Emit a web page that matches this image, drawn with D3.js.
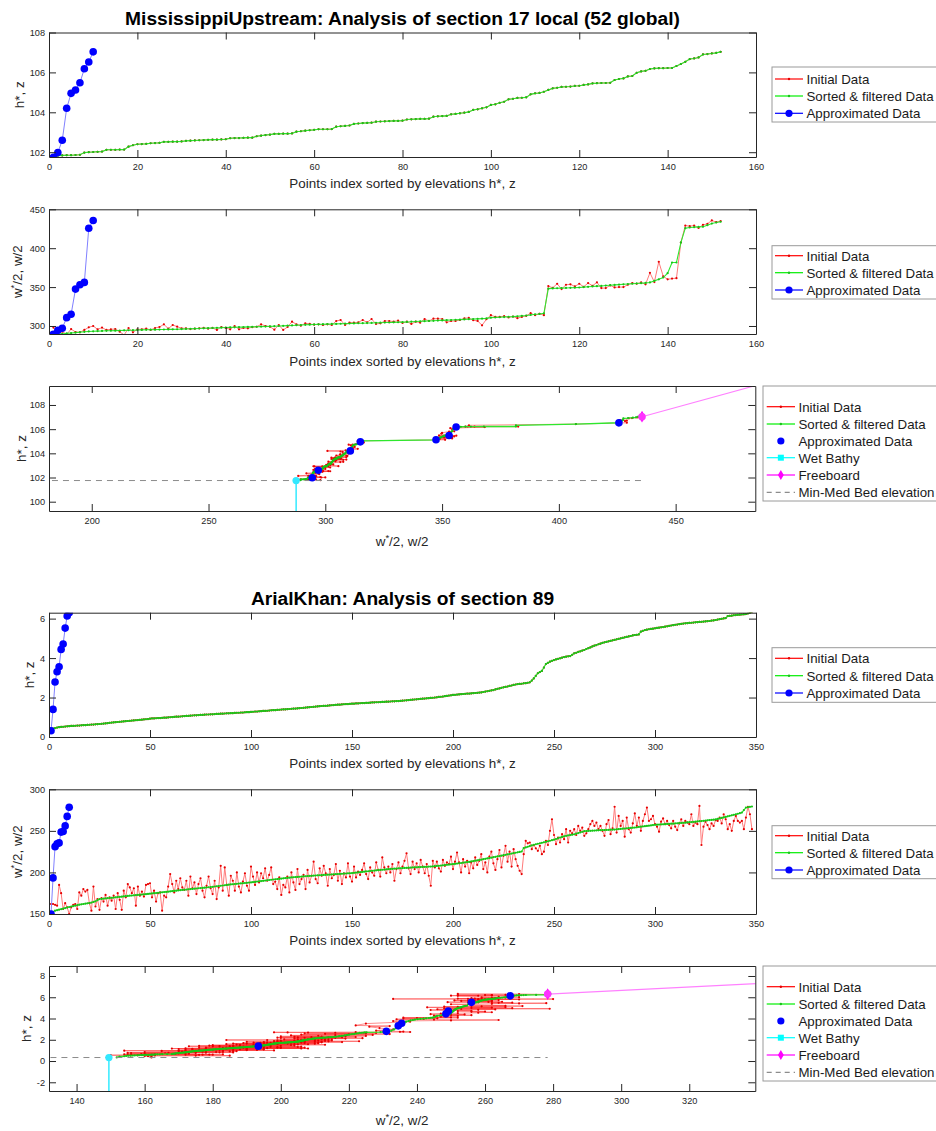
<!DOCTYPE html>
<html>
<head>
<meta charset="utf-8">
<script src="https://cdn.jsdelivr.net/npm/d3@7"></script>
<style>
body { margin: 0; background: #fff; }
svg text { font-family: "Liberation Sans", Arial, Helvetica, sans-serif; }
</style>
</head>
<body>
<svg id="fig" width="936" height="1131"></svg>
<script>
// ---------- MississippiUpstream, section 17 ----------
var missH = [
  101.78,101.83,101.84,101.85,101.85,101.86,101.87,101.98,102.00,102.01,
  102.02,102.03,102.12,102.12,102.12,102.13,102.13,102.28,102.35,102.40,
  102.41,102.42,102.45,102.46,102.47,102.52,102.52,102.53,102.53,102.54,
  102.57,102.58,102.59,102.60,102.61,102.62,102.63,102.63,102.64,102.65,
  102.70,102.71,102.71,102.72,102.73,102.73,102.80,102.83,102.86,102.88,
  102.92,102.92,102.93,102.93,102.94,103.03,103.05,103.08,103.10,103.12,
  103.15,103.15,103.15,103.16,103.28,103.30,103.32,103.34,103.42,103.44,
  103.46,103.47,103.48,103.53,103.54,103.55,103.56,103.57,103.57,103.58,
  103.64,103.65,103.66,103.67,103.67,103.68,103.78,103.80,103.81,103.82,
  103.90,103.92,103.95,103.98,104.02,104.12,104.15,104.20,104.25,104.37,
  104.40,104.48,104.53,104.65,104.68,104.72,104.73,104.75,104.90,104.95,
  104.97,105.03,105.12,105.20,105.23,105.27,105.28,105.29,105.32,105.33,
  105.37,105.40,105.45,105.46,105.47,105.47,105.48,105.62,105.67,105.70,
  105.80,105.82,105.98,106.05,106.08,106.17,106.20,106.21,106.21,106.22,
  106.22,106.32,106.42,106.53,106.67,106.70,106.75,106.90,106.92,106.95,
  106.98,107.03];
var missWSorted = [
  289.3,289.5,289.8,290.5,291.0,291.5,292.0,292.5,293.0,293.2,
  293.4,293.6,293.8,293.9,294.0,294.2,294.4,294.5,294.6,294.8,
  295.0,295.1,295.2,295.3,295.4,295.5,295.6,295.7,295.8,296.0,
  296.2,296.4,296.6,296.8,297.0,297.2,297.4,297.6,297.8,298.0,
  298.2,298.3,298.5,298.6,298.8,298.9,299.0,299.2,299.3,299.5,
  299.7,300.0,300.2,300.5,300.7,301.0,301.2,301.5,301.7,302.0,
  302.1,302.3,302.4,302.6,302.7,302.9,303.0,303.2,303.3,303.5,
  303.6,303.8,303.9,304.1,304.2,304.4,304.5,304.7,304.8,305.0,
  305.2,305.5,305.7,306.0,306.2,306.5,306.7,307.0,307.2,307.5,
  307.7,308.0,308.2,308.5,308.7,309.0,309.2,309.5,309.8,310.7,
  311.0,311.2,311.5,311.8,312.0,312.5,313.0,313.5,314.2,315.0,
  315.5,316.3,348.0,348.3,348.5,348.7,348.9,349.1,349.3,349.5,
  350.0,350.4,350.8,351.2,351.5,352.0,352.4,352.8,353.2,353.6,
  354.0,354.3,354.7,355.0,355.4,356.0,358.0,360.0,362.3,367.9,
  381.6,381.6,407.3,425.7,426.6,427.0,427.4,427.6,429.6,431.7,
  433.0,434.0];
var missWInitial = [
  297.9,291.4,292.7,289.3,296.0,292.3,291.9,294.9,298.3,300.0,
  295.7,297.9,294.9,295.7,296.1,292.7,288.4,297.4,291.9,295.7,
  295.7,296.6,294.9,297.4,298.7,302.1,296.6,301.3,299.1,297.0,
  297.0,296.0,296.5,297.0,297.5,296.6,297.5,294.9,298.7,297.5,
  295.7,300.0,295.7,297.5,297.0,298.5,299.0,302.1,300.0,299.1,
  295.3,301.3,294.9,298.7,305.6,302.1,300.4,303.4,302.6,301.7,
  302.1,301.3,302.1,301.3,306.4,307.7,301.3,304.3,304.3,304.7,
  307.7,304.7,309.0,302.6,303.4,306.4,306.4,305.6,306.9,303.9,
  305.6,302.6,305.6,304.3,309.0,306.4,309.4,309.4,309.0,304.7,
  306.4,306.4,307.7,309.9,310.3,307.4,306.5,300.9,308.7,313.9,
  311.7,311.7,312.6,310.9,312.2,310.0,311.7,313.0,316.5,313.9,
  315.7,313.9,351.3,349.1,354.3,347.4,353.0,353.5,350.9,354.3,
  350.4,355.2,351.7,356.1,348.7,348.7,352.2,349.6,350.0,350.0,
  353.0,355.2,354.3,356.1,353.5,368.3,356.5,382.6,363.9,360.0,
  360.9,361.5,407.3,429.1,428.3,429.1,426.1,430.0,431.3,435.7,
  433.5,434.8];
var missApproxH = [101.75,101.98,102.60,104.20,104.95,105.12,105.48,106.18,106.52,107.03];
var missApproxW = [289.3,294.4,297.0,310.7,315.0,347.4,353.0,356.0,425.7,435.6];
var missWetW = [287.5,287.5],   missWetH = [101.75,95.0];
var missFreeW = [435.6,500.0],  missFreeH = [107.03,110.44];
var missBedW = [150.0,435.6],   missBedH = [101.75,101.75];

// ---------- ArialKhan, section 89 ----------
var arialH = [
  0.34,0.42,0.45,0.48,0.50,0.51,0.52,0.53,0.54,0.55,
  0.56,0.56,0.57,0.58,0.58,0.59,0.60,0.60,0.61,0.62,
  0.63,0.63,0.64,0.65,0.66,0.67,0.68,0.69,0.70,0.72,
  0.73,0.74,0.75,0.76,0.77,0.78,0.79,0.80,0.81,0.82,
  0.83,0.84,0.85,0.86,0.87,0.88,0.89,0.90,0.91,0.93,
  0.94,0.94,0.95,0.96,0.96,0.97,0.98,0.98,0.99,1.00,
  1.01,1.02,1.03,1.03,1.04,1.05,1.06,1.07,1.07,1.08,
  1.09,1.10,1.10,1.11,1.12,1.12,1.13,1.14,1.14,1.15,
  1.15,1.16,1.17,1.17,1.18,1.18,1.19,1.20,1.20,1.21,
  1.21,1.22,1.23,1.23,1.24,1.24,1.25,1.26,1.26,1.27,
  1.28,1.29,1.29,1.30,1.31,1.32,1.32,1.33,1.34,1.35,
  1.36,1.36,1.37,1.38,1.39,1.40,1.40,1.41,1.42,1.43,
  1.44,1.44,1.45,1.46,1.47,1.48,1.49,1.50,1.51,1.52,
  1.53,1.54,1.55,1.56,1.57,1.58,1.58,1.59,1.60,1.61,
  1.62,1.63,1.64,1.64,1.65,1.66,1.67,1.67,1.68,1.69,
  1.69,1.70,1.70,1.71,1.72,1.72,1.73,1.73,1.74,1.75,
  1.75,1.76,1.76,1.77,1.78,1.78,1.79,1.79,1.80,1.81,
  1.81,1.82,1.82,1.83,1.84,1.85,1.86,1.87,1.88,1.89,
  1.90,1.91,1.92,1.93,1.94,1.95,1.96,1.97,1.98,1.99,
  2.00,2.01,2.03,2.04,2.05,2.07,2.08,2.10,2.11,2.13,
  2.14,2.15,2.16,2.17,2.18,2.19,2.20,2.20,2.21,2.22,
  2.23,2.24,2.25,2.26,2.28,2.30,2.32,2.34,2.36,2.38,
  2.41,2.44,2.46,2.49,2.52,2.54,2.56,2.59,2.61,2.64,
  2.66,2.68,2.69,2.70,2.72,2.73,2.75,2.77,2.86,2.97,
  3.10,3.23,3.29,3.35,3.52,3.70,3.76,3.82,3.86,3.90,
  3.93,3.96,3.99,4.02,4.05,4.07,4.09,4.10,4.17,4.24,
  4.27,4.31,4.34,4.38,4.41,4.46,4.50,4.54,4.59,4.63,
  4.66,4.70,4.73,4.77,4.80,4.82,4.85,4.87,4.90,4.92,
  4.95,4.97,5.00,5.02,5.05,5.07,5.10,5.12,5.15,5.17,
  5.18,5.20,5.34,5.38,5.42,5.44,5.46,5.48,5.49,5.51,
  5.53,5.54,5.56,5.57,5.59,5.61,5.63,5.65,5.67,5.69,
  5.70,5.72,5.73,5.75,5.76,5.77,5.78,5.79,5.80,5.81,
  5.82,5.83,5.84,5.85,5.86,5.87,5.88,5.90,5.91,5.93,
  5.95,5.97,5.99,6.01,6.03,6.13,6.14,6.15,6.17,6.18,
  6.19,6.20,6.21,6.22,6.23,6.26,6.30,6.33];
var arialWSorted = [
  151.8,152.6,154.0,154.6,155.2,155.8,156.5,157.1,157.8,158.4,
  159.0,159.5,160.1,160.6,161.2,161.6,162.0,162.4,162.8,163.2,
  163.8,164.5,165.2,166.6,168.0,168.2,168.5,168.7,169.0,169.2,
  169.5,169.8,170.1,170.4,170.6,170.9,171.2,171.5,171.7,172.0,
  172.2,172.5,172.7,173.0,173.2,173.4,173.7,173.9,174.2,174.4,
  174.7,175.0,175.2,175.5,175.8,176.1,176.4,176.6,176.9,177.2,
  177.5,177.8,178.0,178.3,178.6,178.9,179.2,179.4,179.7,180.0,
  180.2,180.5,180.7,181.0,181.2,181.4,181.7,181.9,182.2,182.4,
  182.7,183.1,183.4,183.7,184.0,184.3,184.6,185.0,185.3,185.6,
  185.8,186.1,186.3,186.6,186.8,187.0,187.3,187.5,187.8,188.0,
  188.3,188.6,189.0,189.3,189.6,189.9,190.2,190.6,190.9,191.2,
  191.5,191.8,192.0,192.3,192.6,192.9,193.2,193.4,193.7,194.0,
  194.2,194.4,194.6,194.8,195.0,195.2,195.4,195.6,195.8,196.0,
  196.2,196.3,196.5,196.6,196.8,197.0,197.1,197.3,197.4,197.6,
  197.8,197.9,198.1,198.2,198.4,198.6,198.7,198.9,199.0,199.2,
  199.5,199.8,200.0,200.3,200.6,200.9,201.2,201.4,201.7,202.0,
  202.2,202.5,202.7,203.0,203.2,203.4,203.7,203.9,204.2,204.4,
  204.6,204.7,204.9,205.0,205.2,205.4,205.5,205.7,205.8,206.0,
  206.1,206.2,206.4,206.5,206.6,206.7,206.8,207.0,207.1,207.2,
  207.5,207.8,208.0,208.3,208.6,208.9,209.2,209.4,209.7,210.0,
  210.3,210.7,211.0,211.3,211.7,212.0,212.4,212.7,213.2,213.6,
  214.1,214.5,215.0,215.4,215.9,216.4,216.9,217.3,217.8,218.3,
  218.8,219.3,219.7,220.2,220.7,221.2,221.7,222.2,222.7,223.2,
  223.7,224.2,224.7,225.2,229.3,230.1,230.9,231.7,232.5,233.3,
  233.9,234.5,235.0,235.6,236.2,236.8,237.5,238.1,238.8,239.4,
  240.2,241.0,241.9,242.7,243.5,244.0,244.5,244.9,245.4,245.9,
  246.6,247.4,248.1,248.9,249.6,249.8,249.9,250.1,250.2,250.4,
  250.5,250.6,250.8,250.9,251.0,251.1,251.2,251.4,251.5,251.6,
  251.8,252.1,252.3,252.6,252.8,253.0,253.3,253.5,253.8,254.0,
  254.3,254.7,255.0,255.3,255.6,256.0,256.3,256.6,257.0,257.3,
  257.5,257.6,257.8,257.9,258.1,258.3,258.4,258.6,258.7,258.9,
  259.1,259.3,259.5,259.7,259.9,260.2,260.4,260.6,260.8,261.0,
  261.3,261.6,261.8,262.1,262.4,262.7,263.0,263.2,263.5,263.8,
  264.4,265.0,265.6,266.2,266.8,267.5,268.1,268.7,269.3,269.9,
  270.6,271.3,272.0,275.0,278.0,278.4,278.9,279.3];
var arialWInitial = [
  162,162,161,160,185,175,156,163,158,150,
  158,161,162,156,176,172,180,177,179,163,
  154,183,159,168,155,169,165,173,160,170,
  166,172,156,175,167,155,178,170,186,182,
  175,181,160,183,172,177,171,185,186,187,
  170,178,165,175,176,154,172,170,183,198,
  186,176,190,180,193,182,179,190,172,195,
  181,188,174,186,193,178,170,184,195,181,
  174,190,168,182,208,178,206,185,172,196,
  190,178,200,183,176,189,199,184,178,207,
  195,185,200,188,199,193,205,190,197,206,
  186,189,180,194,173,185,182,195,176,200,
  188,179,204,186,192,197,180,203,188,196,
  213,192,187,205,196,208,199,184,204,193,
  197,210,190,202,186,199,194,211,195,189,
  207,194,201,197,203,211,198,192,206,200,
  196,212,203,195,218,206,199,207,200,210,
  190,204,212,199,207,214,223,205,198,213,
  204,211,200,215,207,199,210,196,184,214,
  206,213,205,201,215,208,212,210,219,204,
  213,224,212,200,216,207,214,199,212,205,
  218,209,214,222,204,212,200,219,225,211,
  203,216,227,206,220,232,213,225,207,228,
  216,208,202,198,222,238,235,236,228,233,
  229,226,232,222,225,238,233,250,264,245,
  234,242,236,246,240,252,236,250,247,252,
  245,256,250,254,244,247,252,258,262,256,
  260,252,256,250,244,258,263,246,253,279,
  248,268,256,262,243,266,252,248,259,271,
  256,266,250,262,270,278,262,264,268,258,
  255,249,261,265,258,262,257,253,262,255,
  251,259,264,256,262,260,258,270,256,260,
  258,280,233,255,261,257,252,259,256,263,
  262,266,259,270,264,252,258,250,262,268,
  262,260,262,252,266,279,270,252];
var arialApproxH = [0.32,1.40,2.79,3.31,3.56,4.44,4.71,5.52,6.13,6.30];
var arialApproxW = [150.0,193.4,231.0,234.5,235.5,248.5,249.2,256.0,267.4,278.4];
var arialWetW = [149.5,149.5],  arialWetH = [0.32,-5.0];
var arialFreeW = [278.4,360.0], arialFreeH = [6.30,7.60];
var arialBedW = [100.0,278.4],  arialBedH = [0.33,0.33];

// ---------- drawing ----------
var svg = d3.select("#fig");
var AXC = "#262626";
var RED_L = "#ff7a7a", RED_M = "#e60000";
var GRN_L = "#2ee82e", GRN_M = "#18c418";
var BLU_L = "#8080ff", BLU_M = "#0000ff";
var clipCount = 0;

function makeAxes(p) {
  var x = d3.scaleLinear().domain(p.xd).range([p.l, p.r]);
  var y = d3.scaleLinear().domain(p.yd).range([p.b, p.t]);
  var id = "clip" + (clipCount++);
  svg.append("clipPath").attr("id", id).append("rect")
    .attr("x", p.l).attr("y", p.t).attr("width", p.r - p.l).attr("height", p.b - p.t);
  var plot = svg.append("g").attr("clip-path", "url(#" + id + ")");
  return {x: x, y: y, plot: plot, p: p};
}

function finishAxes(a) {
  var p = a.p, x = a.x, y = a.y;
  var fmt = function(d) { return String(d); };
  var style = function(sel) {
    sel.select("path.domain").attr("stroke", AXC).attr("stroke-width", 1);
    sel.selectAll(".tick line").attr("stroke", AXC);
    sel.selectAll("text").attr("fill", AXC).style("font-size", "9.2px");
  };
  var g = svg.append("g");
  g.append("g").attr("transform", "translate(0," + p.b + ")")
    .call(d3.axisBottom(x).tickValues(p.xt).tickFormat(fmt).tickSizeInner(-7).tickSizeOuter(0).tickPadding(6)).call(style);
  g.append("g").attr("transform", "translate(0," + p.t + ")")
    .call(d3.axisTop(x).tickValues(p.xt).tickFormat("").tickSizeInner(-7).tickSizeOuter(0)).call(style);
  g.append("g").attr("transform", "translate(" + p.l + ",0)")
    .call(d3.axisLeft(y).tickValues(p.yt).tickFormat(fmt).tickSizeInner(-7).tickSizeOuter(0).tickPadding(4)).call(style);
  g.append("g").attr("transform", "translate(" + p.r + ",0)")
    .call(d3.axisRight(y).tickValues(p.yt).tickFormat("").tickSizeInner(-7).tickSizeOuter(0)).call(style);
}

function seriesLine(a, xs, ys, color, width, dash, opacity) {
  var pts = xs.map(function(v, i) { return [v, ys[i]]; });
  a.plot.append("path").datum(pts)
    .attr("fill", "none").attr("stroke", color).attr("stroke-width", width || 1)
    .attr("stroke-dasharray", dash || null).attr("opacity", opacity == null ? 1 : opacity)
    .attr("d", d3.line().x(function(d) { return a.x(d[0]); }).y(function(d) { return a.y(d[1]); }));
}

function seriesDots(a, xs, ys, color, r) {
  a.plot.append("g").selectAll("circle").data(xs).enter().append("circle")
    .attr("cx", function(d) { return a.x(d); })
    .attr("cy", function(d, i) { return a.y(ys[i]); })
    .attr("r", r).attr("fill", color);
}

function seriesSymbol(a, xs, ys, type, size, color) {
  a.plot.append("g").selectAll("path").data(xs).enter().append("path")
    .attr("transform", function(d, i) { return "translate(" + a.x(d) + "," + a.y(ys[i]) + ")"; })
    .attr("d", d3.symbol().type(type).size(size)).attr("fill", color);
}

function xLabel(p, y, parts) {
  var t = svg.append("text").attr("x", (p.l + p.r) / 2).attr("y", y)
    .attr("text-anchor", "middle").attr("fill", AXC).style("font-size", "13.4px");
  addParts(t, parts);
}

function yLabel(p, x, parts) {
  var cy = (p.t + p.b) / 2;
  var t = svg.append("text").attr("transform", "translate(" + x + "," + cy + ") rotate(-90)")
    .attr("text-anchor", "middle").attr("fill", AXC).style("font-size", "13.4px");
  addParts(t, parts);
}

// parts: plain strings, or {sup: "*"}
function addParts(t, parts) {
  var shifted = false;
  parts.forEach(function(s) {
    if (typeof s === "string") {
      t.append("tspan").attr("dy", shifted ? 5 : null).text(s);
      shifted = false;
    } else {
      t.append("tspan").attr("dy", -5).style("font-size", "9.5px").text(s.sup);
      shifted = true;
    }
  });
}

function title(y, text) {
  svg.append("text").attr("x", 402.5).attr("y", y).attr("text-anchor", "middle")
    .attr("fill", "#000").style("font-size", "19.2px").style("font-weight", "bold").text(text);
}

// legend: L = {x, y, w, h, s0, s1, rows, items}
function legend(L) {
  var g = svg.append("g");
  g.append("rect").attr("x", L.x).attr("y", L.y).attr("width", L.w).attr("height", L.h)
    .attr("fill", "#fff").attr("stroke", "#9a9a9a").attr("stroke-width", 1);
  L.items.forEach(function(it, i) {
    var yy = L.rows[i], mx = (L.s0 + L.s1) / 2;
    if (it.line) {
      g.append("line").attr("x1", L.s0).attr("x2", L.s1).attr("y1", yy).attr("y2", yy)
        .attr("stroke", it.line).attr("stroke-width", 1.2).attr("stroke-dasharray", it.dash || null);
    }
    if (it.marker === "dot") g.append("circle").attr("cx", mx).attr("cy", yy).attr("r", 1.2).attr("fill", it.mc);
    if (it.marker === "big") g.append("circle").attr("cx", mx).attr("cy", yy).attr("r", 3.6).attr("fill", it.mc);
    if (it.marker === "square") g.append("rect").attr("x", mx - 3).attr("y", yy - 3).attr("width", 6).attr("height", 6).attr("fill", it.mc);
    if (it.marker === "diamond") g.append("path").attr("transform", "translate(" + mx + "," + yy + ")")
      .attr("d", d3.symbol().type(d3.symbolDiamond).size(30)).attr("fill", it.mc);
    g.append("text").attr("x", L.s1 + 3.5).attr("y", yy + 4.8).attr("fill", "#1a1a1a")
      .style("font-size", "13.3px").text(it.label);
  });
}

var idxItems = [
  {label: "Initial Data", line: "#ff0000", marker: "dot", mc: RED_M},
  {label: "Sorted & filtered Data", line: "#00ee00", marker: "dot", mc: GRN_M},
  {label: "Approximated Data", line: "#0000ff", marker: "big", mc: BLU_M}
];
var crossItems = [
  {label: "Initial Data", line: "#ff0000", marker: "dot", mc: RED_M},
  {label: "Sorted & filtered Data", line: "#00ee00", marker: "dot", mc: GRN_M},
  {label: "Approximated Data", marker: "big", mc: BLU_M},
  {label: "Wet Bathy", line: "#00ffff", marker: "square", mc: "#00ffff"},
  {label: "Freeboard", line: "#ff00ff", marker: "diamond", mc: "#ff00ff"},
  {label: "Min-Med Bed elevation", line: "#8c8c8c", dash: "5,4"}
];

function indexPanel(p, vals, initVals, approx, lab, ylab, leg) {
  var a = makeAxes(p);
  var idx = d3.range(1, vals.length + 1);
  var aidx = d3.range(1, approx.length + 1);
  seriesLine(a, idx, initVals, RED_L, 1);
  seriesDots(a, idx, initVals, RED_M, 1.1);
  seriesLine(a, idx, vals, GRN_L, 1.1);
  seriesDots(a, idx, vals, GRN_M, 1.1);
  seriesLine(a, aidx, approx, BLU_L, 1);
  seriesDots(a, aidx, approx, BLU_M, 3.8);
  finishAxes(a);
  xLabel(p, lab, ["Points index sorted by elevations h*, z"]);
  yLabel(p, ylab.x, ylab.parts);
  legend(leg);
}

function crossPanel(p, d, lab, ylab, leg) {
  var a = makeAxes(p);
  seriesLine(a, d.wInit, d.h, "#ff3030", 1, null, 0.55);
  seriesDots(a, d.wInit, d.h, RED_M, 1.1);
  seriesLine(a, d.wSort, d.h, GRN_L, 1.3);
  seriesDots(a, d.wSort, d.h, GRN_M, 1.1);
  seriesLine(a, d.bedW, d.bedH, "#8c8c8c", 1, "6,5");
  seriesLine(a, d.wetW, d.wetH, "#00e5ff", 1.2);
  seriesLine(a, d.freeW, d.freeH, "#ff80ff", 1.2);
  seriesDots(a, d.aW.slice(1, -1), d.aH.slice(1, -1), BLU_M, 3.8);
  seriesSymbol(a, d.wetW.slice(0, 1), d.wetH.slice(0, 1), d3.symbolCircle, 42, "#33e8ff");
  seriesSymbol(a, d.freeW.slice(0, 1), d.freeH.slice(0, 1), d3.symbolDiamond, 40, "#ff00ff");
  seriesSymbol(a, d.freeW.slice(0, 1), d.freeH.slice(0, 1), d3.symbolCircle, 44, "#ff33ff");
  finishAxes(a);
  xLabel(p, lab, ["w", {sup: "*"}, "/2, w/2"]);
  yLabel(p, ylab, ["h*, z"]);
  legend(leg);
}

// ---- MississippiUpstream ----
title(25, "MississippiUpstream: Analysis of section 17 local (52 global)");
indexPanel({l: 49, r: 756, t: 32.5, b: 157, xd: [0, 160], yd: [101.76, 108],
            xt: d3.range(0, 161, 20), yt: [102, 104, 106, 108]},
  missH, missH, missApproxH, 188, {x: 24, parts: ["h*, z"]},
  {x: 772, y: 67, w: 168, h: 55, s0: 775, s1: 803, rows: [79, 96, 113.3], items: idxItems});
indexPanel({l: 49, r: 756, t: 209.3, b: 334, xd: [0, 160], yd: [289.7, 450],
            xt: d3.range(0, 161, 20), yt: [300, 350, 400, 450]},
  missWSorted, missWInitial, missApproxW, 366, {x: 22, parts: ["w", {sup: "*"}, "/2, w/2"]},
  {x: 772, y: 245.7, w: 168, h: 53.3, s0: 775, s1: 803, rows: [255.7, 272.7, 290], items: idxItems});
crossPanel({l: 49, r: 755.3, t: 386, b: 511, xd: [181.7, 484.1], yd: [99.23, 109.57],
            xt: d3.range(200, 451, 50), yt: d3.range(100, 109, 2)},
  {h: missH, wInit: missWInitial, wSort: missWSorted, aW: missApproxW, aH: missApproxH,
   wetW: missWetW, wetH: missWetH, freeW: missFreeW, freeH: missFreeH, bedW: missBedW, bedH: missBedH},
  546, 26,
  {x: 763, y: 386, w: 177, h: 115, s0: 766.7, s1: 795, rows: [406.7, 424, 441, 457.7, 475, 492.3], items: crossItems});

// ---- ArialKhan ----
title(605, "ArialKhan: Analysis of section 89");
indexPanel({l: 49, r: 756, t: 612.7, b: 737, xd: [0, 350], yd: [0, 6.3],
            xt: d3.range(0, 351, 50), yt: [0, 2, 4, 6]},
  arialH, arialH, arialApproxH, 768, {x: 34, parts: ["h*, z"]},
  {x: 772, y: 647.7, w: 168, h: 54.6, s0: 775, s1: 803, rows: [658.3, 675.7, 693], items: idxItems});
indexPanel({l: 49, r: 756, t: 789.3, b: 914, xd: [0, 350], yd: [150, 300],
            xt: d3.range(0, 351, 50), yt: [150, 200, 250, 300]},
  arialWSorted, arialWInitial, arialApproxW, 945, {x: 22, parts: ["w", {sup: "*"}, "/2, w/2"]},
  {x: 772, y: 825.7, w: 168, h: 53, s0: 775, s1: 803, rows: [835.7, 852.7, 870], items: idxItems});
crossPanel({l: 49, r: 755.3, t: 966, b: 1091, xd: [131.9, 339.4], yd: [-2.82, 8.94],
            xt: d3.range(140, 321, 20), yt: d3.range(-2, 9, 2)},
  {h: arialH, wInit: arialWInitial, wSort: arialWSorted, aW: arialApproxW, aH: arialApproxH,
   wetW: arialWetW, wetH: arialWetH, freeW: arialFreeW, freeH: arialFreeH, bedW: arialBedW, bedH: arialBedH},
  1125, 31,
  {x: 763, y: 966, w: 177, h: 115, s0: 766.7, s1: 795, rows: [986.7, 1004, 1021, 1037.7, 1055, 1072.3], items: crossItems});
</script>
</body>
</html>
